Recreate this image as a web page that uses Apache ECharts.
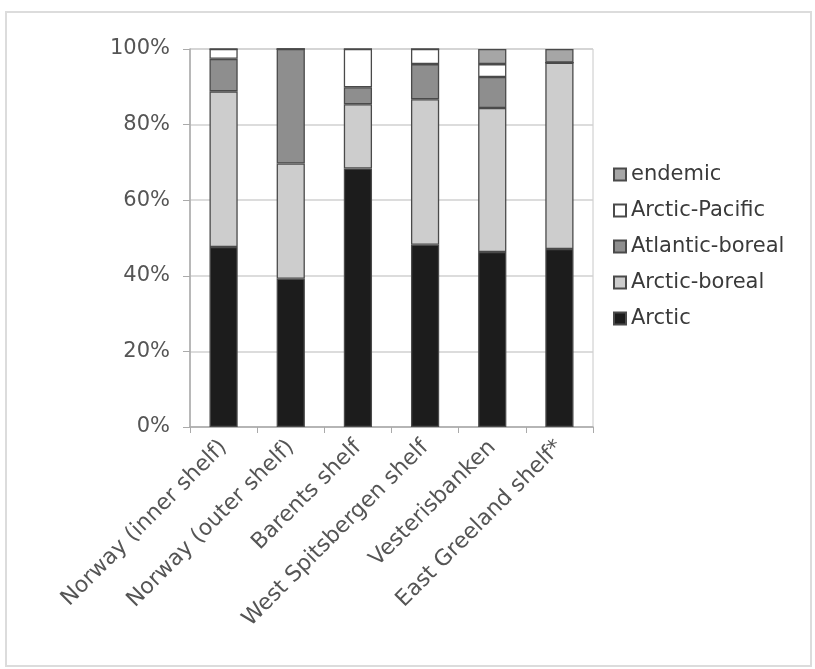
<!DOCTYPE html>
<html>
<head>
<meta charset="utf-8">
<script src="https://cdn.jsdelivr.net/npm/echarts@6/dist/echarts.min.js"></script>
<style>html,body{margin:0;padding:0;background:#fff;}#c{width:815px;height:669px;}</style>
</head>
<body>
<div id="c"></div>
<script>
const categories = ["Norway (inner shelf)", "Norway (outer shelf)", "Barents shelf", "West Spitsbergen shelf", "Vesterisbanken", "East Greeland shelf*"];
const arctic = [47.6, 39.2, 68.4, 48.2, 46.3, 47.1];
const arcticBoreal = [41.2, 30.5, 17.0, 38.5, 38.1, 49.3];
const atlanticBoreal = [8.6, 30.3, 4.5, 9.3, 8.2, 0];
const arcticPacific = [2.6, 0, 10.1, 4.0, 3.4, 0];
const endemic = [0, 0, 0, 0, 4.0, 3.6];
const yTicks = [0, 20, 40, 60, 80, 100];

const font = "DejaVu Sans";
const chart = echarts.init(document.getElementById('c'), null, {renderer: 'canvas'});
function bar(name, data, color) {
  return {
    name: name, type: 'bar', stack: 'all', data: data, barWidth: '42%',
    itemStyle: {color: color, borderColor: '#4a4a4a', borderWidth: 1.3},
    emphasis: {disabled: true}
  };
}
chart.setOption({
  animation: false,
  backgroundColor: '#fff',
  graphic: [{
    type: 'rect', shape: {x: 6, y: 12, width: 805, height: 654},
    style: {fill: 'none', stroke: '#dcdcdc', lineWidth: 2}, silent: true
  }],
  grid: {left: 190, right: 222, top: 49, bottom: 242, show: true, borderColor: '#c8c8c8', borderWidth: 1},
  legend: {
    orient: 'vertical', left: 608, top: 159, itemGap: 15,
    itemWidth: 12, itemHeight: 12, icon: 'rect',
    textStyle: {fontFamily: font, fontSize: 21, color: '#3a3a3a'},
    data: ['endemic', 'Arctic-Pacific', 'Atlantic-boreal', 'Arctic-boreal', 'Arctic']
  },
  xAxis: {
    type: 'category', data: categories,
    axisLine: {lineStyle: {color: '#aaa', width: 1.5}},
    axisTick: {show: true, length: 6, lineStyle: {color: '#aaa'}},
    axisLabel: {rotate: 45, interval: 0, margin: 17, fontFamily: font, fontSize: 22, color: '#555'}
  },
  yAxis: {
    type: 'value', min: yTicks[0], max: yTicks[yTicks.length - 1], interval: 20,
    axisLine: {show: true, lineStyle: {color: '#aaa', width: 1.5}},
    axisTick: {show: true, length: 7, lineStyle: {color: '#aaa'}},
    axisLabel: {formatter: '{value}%', margin: 20, fontFamily: font, fontSize: 21, color: '#555'},
    splitLine: {lineStyle: {color: '#d0d0d0', width: 1.5}}
  },
  series: [
    bar('Arctic', arctic, '#1c1c1c'),
    bar('Arctic-boreal', arcticBoreal, '#cdcdcd'),
    bar('Atlantic-boreal', atlanticBoreal, '#8e8e8e'),
    bar('Arctic-Pacific', arcticPacific, '#ffffff'),
    bar('endemic', endemic, '#a6a6a6')
  ]
});
</script>
</body>
</html>
